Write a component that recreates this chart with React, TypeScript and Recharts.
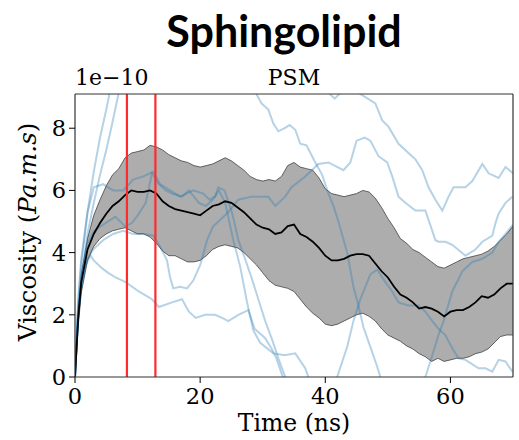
import React from "react";
import {
  ComposedChart,
  Area,
  Line,
  XAxis,
  YAxis,
  ReferenceLine,
} from "recharts";

// sample times (ns) for the mean curve and its band
const times = [
  0, 0.5, 1, 2, 3, 4, 5, 6, 7, 8, 9, 10, 11, 12, 13, 14, 15, 16, 17, 18, 19, 20,
  21, 22, 23, 24, 25, 26, 27, 28, 29, 30, 31, 32, 33, 34, 35, 36, 37, 38, 39, 40,
  41, 42, 43, 44, 45, 46, 47, 48, 49, 50, 51, 52, 53, 54, 55, 56, 57, 58, 59, 60,
  61, 62, 63, 64, 65, 66, 67, 68, 69, 70,
];

// viscosity in units of 1e-10 Pa.m.s
const meanVisc = [
  0, 1.85, 3.05, 4.1, 4.6, 4.95, 5.25, 5.5, 5.65, 5.85, 6.0, 5.95, 5.95, 6.0, 5.9,
  5.65, 5.5, 5.4, 5.35, 5.3, 5.25, 5.2, 5.35, 5.5, 5.55, 5.65, 5.6, 5.45, 5.3, 5.1,
  4.9, 4.8, 4.75, 4.6, 4.65, 4.85, 4.9, 4.6, 4.5, 4.35, 4.15, 3.9, 3.75, 3.75, 3.8,
  3.9, 3.95, 3.95, 3.9, 3.65, 3.4, 3.2, 2.9, 2.65, 2.55, 2.4, 2.2, 2.25, 2.2, 2.1,
  1.95, 2.1, 2.15, 2.15, 2.25, 2.4, 2.6, 2.55, 2.65, 2.85, 3.0, 3.0,
];

const upperVisc = [
  0, 2.0, 3.3, 4.45, 5.2, 5.7, 6.15, 6.5, 6.7, 7.05, 7.2, 7.25, 7.3, 7.45, 7.4, 7.3,
  7.15, 7.05, 6.95, 6.9, 6.8, 6.75, 6.8, 6.85, 6.95, 7.05, 6.95, 6.8, 6.65, 6.45,
  6.35, 6.3, 6.35, 6.3, 6.45, 6.8, 6.9, 6.75, 6.7, 6.65, 6.4, 6.05, 5.9, 5.85, 5.8,
  5.85, 5.9, 6.0, 5.95, 5.75, 5.45, 5.1, 4.8, 4.45, 4.3, 4.1, 4.0, 3.85, 3.7, 3.55,
  3.5, 3.6, 3.7, 3.8, 3.85, 3.9, 3.95, 4.05, 4.2, 4.4, 4.6, 4.85,
];

const lowerVisc = [
  0, 1.6, 2.7, 3.75, 4.2, 4.45, 4.6, 4.7, 4.75, 4.8, 4.7, 4.6, 4.6, 4.5, 4.3, 4.05,
  3.9, 3.9, 3.8, 3.7, 3.7, 3.75, 3.9, 4.1, 4.2, 4.25, 4.2, 4.15, 4.0, 3.8, 3.6, 3.35,
  3.1, 2.95, 2.9, 2.85, 2.75, 2.5, 2.25, 2.05, 1.9, 1.7, 1.65, 1.7, 1.8, 1.9, 2.0,
  2.05, 1.95, 1.8, 1.55, 1.35, 1.25, 1.15, 1.0, 0.9, 0.75, 0.65, 0.5, 0.6, 0.5, 0.55,
  0.6, 0.6, 0.65, 0.75, 0.8, 0.9, 1.1, 1.3, 1.35, 1.35,
];

// individual runs, [time, viscosity] (values outside 0..9.1 are clipped)
const runA = [
  [0, 0], [0.5, 2.3], [1, 3.6], [2, 5.3], [3, 6.6], [4, 7.7], [5, 8.6], [5.6, 9.2],
  [8, 10.5], [15, 11.5], [25, 10.5], [28.5, 9.4], [29, 9.1], [29.8, 8.8], [30.9, 8.6],
  [31.7, 8.15], [32.5, 7.9], [33.5, 8.0], [34.3, 8.1], [35.2, 7.95], [36, 7.5],
  [37, 7.45], [38.4, 6.9], [39.5, 6.5], [40.5, 5.9], [41.3, 5.5], [42.1, 5.0],
  [43.5, 4.0], [44.5, 2.9], [45.3, 2.3], [46.1, 1.6], [47.2, 0.97], [48.3, 0.33],
  [48.8, 0], [50, -0.6], [52, -0.9], [54, -0.6], [56, 0], [57.1, 0.7], [58.1, 1.35],
  [58.9, 1.8], [60.3, 2.75], [61.9, 3.4], [63.5, 3.7], [65.1, 3.8], [66.7, 4.0],
  [67.7, 4.35], [68.8, 4.6], [70, 4.9],
];

const runB = [
  [0, 0], [0.5, 2.0], [1, 3.1], [2, 4.6], [3, 5.6], [4, 6.5], [5, 7.3], [6, 8.2],
  [7, 9.15], [10, 10.4], [20, 11], [30, 10.5], [38, 9.6], [40.5, 9.15], [41.5, 8.95],
  [42.5, 9.15], [44, 9.4], [45.6, 9.1], [46.4, 9.0], [48, 8.8], [49.1, 8.25],
  [50.1, 8.05], [51.7, 7.5], [53.3, 7.2], [54.4, 7.0], [55.5, 6.65], [56.5, 6.1],
  [57.6, 5.7], [58.7, 5.35], [59.7, 5.8], [60.5, 6.1], [62.4, 6.1], [63.5, 6.3],
  [65.1, 6.85], [66.1, 6.55], [67.7, 6.4], [68.8, 6.75], [70, 6.55],
];

const runC = [
  [0, 0], [0.5, 2.5], [1, 3.8], [2, 5.3], [3, 6.1], [4.5, 6.2], [6.1, 6.0], [7.7, 6.0],
  [9.3, 6.35], [10.9, 6.45], [12.5, 6.6], [13.6, 6.2], [15.2, 6.0], [16.8, 5.8],
  [18.9, 6.0], [20.5, 5.9], [21.5, 5.7], [22.4, 5.8], [22.9, 6.1], [23.9, 6.0],
  [25, 5.35], [25.5, 4.95], [26.1, 4.4], [27, 3.9], [28.2, 3.2], [29.3, 2.5],
  [30.4, 1.8], [31.5, 1.2], [32.5, 0.6], [33.6, 0], [35, -0.6], [38, -0.9], [41, -0.4],
  [41.9, 0], [43.5, 0.97], [44.5, 1.8], [45.6, 2.5], [47.2, 3.3], [48.3, 3.45],
  [49.6, 3.05], [50.7, 2.75], [51.7, 2.4], [53.3, 2.3], [54.9, 2.3], [56, 2.1],
  [57.1, 1.8], [58.1, 1.55], [59.2, 1.35], [60.3, 0.92], [61.3, 0.6], [62.4, 0.55],
  [64.5, 0.28], [65.6, 0.28], [66.7, 0.17], [67.7, 0.55], [68.8, 0.5], [69.9, 0.17],
];

const runD = [
  [0, 0], [0.5, 2.0], [1, 2.9], [1.7, 3.6], [2.5, 3.9], [3, 3.75], [4.3, 3.5],
  [5.3, 3.35], [6.5, 3.2], [8.1, 3.05], [10.2, 2.75], [12.3, 2.5], [13.4, 2.25],
  [15.5, 2.4], [17.1, 2.5], [18.2, 2.1], [19.3, 1.9], [20.8, 2.0], [22.4, 2.0],
  [23.5, 1.9], [24.5, 1.8], [26.1, 2.0], [27.7, 2.15], [28.7, 1.55], [30.4, 1.25],
  [31.4, 0.92], [32.2, 0.6], [33.2, 0], [36, -0.8], [45, -1.5], [55, -2], [70, -2],
];

const runF = [
  [0, 0], [0.5, 1.9], [1, 2.9], [2, 3.8], [2.9, 4.1], [4.5, 4.4], [6.1, 4.6],
  [7.7, 4.7], [9.3, 4.6], [10.9, 4.6], [12.5, 4.55], [13.6, 4.2], [14.7, 3.75],
  [15.2, 3.2], [15.7, 2.85], [16.8, 2.9], [17.9, 2.85], [18.9, 3.1], [20, 3.6],
  [20.5, 3.95], [21.1, 4.4], [22.1, 4.85], [23.2, 5.05], [24.5, 5.3], [26.1, 5.7],
  [28.2, 5.8], [30.9, 5.8], [32, 5.5], [33.6, 5.8], [34.6, 6.1], [36.8, 6.45],
  [38.9, 6.85], [40.5, 6.9], [42.9, 6.65], [44, 6.9], [45, 7.6], [46.3, 7.7],
  [47.2, 7.6], [48.5, 7.1], [49.9, 6.9], [50.7, 6.45], [51.7, 5.8], [52.8, 5.6],
  [54.4, 5.35], [56, 5.35], [57.1, 4.7], [57.6, 4.4], [58.1, 4.35], [59.2, 4.35],
  [60.3, 4.25], [62.4, 3.9], [64, 4.1], [65.1, 4.35], [66.7, 4.55], [67.2, 4.95],
  [67.7, 5.25], [68.8, 5.6], [69.9, 5.8],
];

const runH = [
  [0, 0], [0.5, 2.1], [1, 3.2], [2, 4.3], [3, 4.7], [4.85, 4.95], [6.45, 5.15],
  [8, 4.85], [9.1, 4.95], [10.2, 5.25], [11.3, 5.6], [12.3, 6.55], [13.4, 6.2],
  [14.5, 6.0], [15.5, 5.9], [17.1, 5.8], [18.2, 6.0], [19.8, 5.6], [20.9, 5.5],
  [22, 5.7], [23, 6.0], [24, 5.6], [25.3, 4.4], [26.4, 3.55], [27.5, 2.4],
  [28.5, 1.5], [29.6, 1.1], [31.7, 0.76], [33.5, 0.7], [35.2, 0.76], [36.8, 0.28],
  [37.3, 0], [40, -1], [50, -1.5], [60, -1.2], [70, -1.5],
];

const runs = [runA, runB, runC, runD, runF, runH];

const xTicks = [0, 20, 40, 60];
const yTicks = [0, 2, 4, 6, 8];
const markers = [8.3, 12.85];

const SERIF = "'DejaVu Serif', serif";

const bandData = times.map((t, i) => ({
  t,
  range: [lowerVisc[i], upperVisc[i]],
  mean: meanVisc[i],
}));

const toPoints = (run: number[][]) => run.map(([t, v]) => ({ t, v }));

export default function App() {
  const tickStyle = { fontFamily: SERIF, fontSize: 22.5, fill: "#000" };
  return (
    <div style={{ position: "absolute", left: 0, top: 0, width: 519, height: 440, background: "#fff" }}>
      <ComposedChart
        width={519}
        height={440}
        data={bandData}
        margin={{ top: 94, right: 6, bottom: 0, left: 0 }}
      >
        <XAxis
          dataKey="t"
          type="number"
          domain={[0, 70]}
          allowDataOverflow
          ticks={xTicks}
          height={63}
          tickSize={6}
          tickMargin={5}
          tick={tickStyle}
          tickLine={{ stroke: "#000" }}
          axisLine={{ stroke: "#333", strokeWidth: 1.2 }}
        />
        <YAxis
          type="number"
          domain={[0, 9.1]}
          allowDataOverflow
          ticks={yTicks}
          width={75}
          tickSize={6}
          tickMargin={3}
          tick={tickStyle}
          tickLine={{ stroke: "#000" }}
          axisLine={{ stroke: "#333", strokeWidth: 1.2 }}
        />
        {runs.map((run, i) => (
          <Line
            key={i}
            data={toPoints(run)}
            dataKey="v"
            type="linear"
            stroke="#1f77b4"
            strokeOpacity={0.33}
            strokeWidth={2}
            dot={false}
            isAnimationActive={false}
          />
        ))}
        <Area
          dataKey="range"
          type="linear"
          fill="#000"
          fillOpacity={0.32}
          stroke="#000"
          strokeOpacity={0.55}
          strokeWidth={1}
          isAnimationActive={false}
        />
        <Line
          dataKey="mean"
          type="linear"
          stroke="#000"
          strokeWidth={1.8}
          dot={false}
          isAnimationActive={false}
        />
        {markers.map((x) => (
          <ReferenceLine key={x} x={x} stroke="#ff2a2a" strokeWidth={2.2} />
        ))}
        <ReferenceLine y={9.1} stroke="#333" strokeWidth={1.2} />
        <ReferenceLine x={70} stroke="#333" strokeWidth={1.2} />
      </ComposedChart>
      <svg
        width={519}
        height={440}
        style={{ position: "absolute", left: 0, top: 0, pointerEvents: "none" }}
      >
        <text x={284} y={47} textAnchor="middle" fontFamily="Lato, sans-serif" fontWeight={700} fontSize={43} fill="#000">
          Sphingolipid
        </text>
        <text x={294} y={85} textAnchor="middle" fontFamily={SERIF} fontSize={22} fill="#000">
          PSM
        </text>
        <text x={75} y={85} fontFamily={SERIF} fontSize={22} fill="#000">
          1e−10
        </text>
        <text x={294} y={431} textAnchor="middle" fontFamily={SERIF} fontSize={23.5} fill="#000">
          Time (ns)
        </text>
        <text
          x={36}
          y={232}
          textAnchor="middle"
          fontFamily={SERIF}
          fontSize={24.5}
          fill="#000"
          transform="rotate(-90 36 232)"
        >
          Viscosity (<tspan fontStyle="italic">Pa.m.s</tspan>)
        </text>
      </svg>
    </div>
  );
}
